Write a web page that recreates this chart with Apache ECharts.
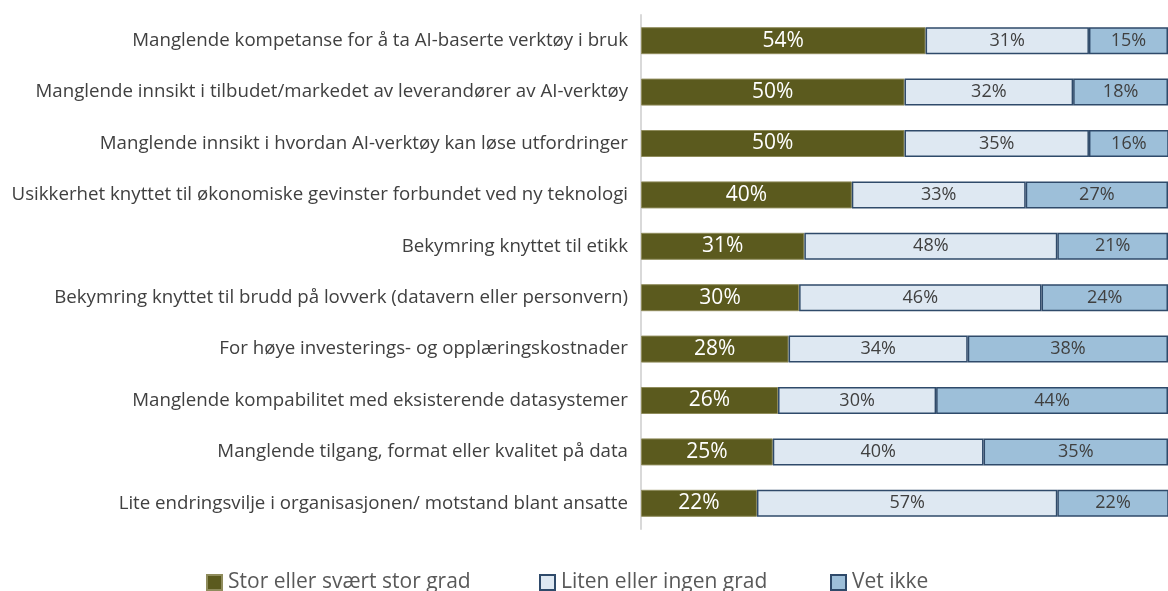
<!DOCTYPE html>
<html>
<head>
<meta charset="utf-8">
<script src="https://cdn.jsdelivr.net/npm/echarts@6/dist/echarts.min.js"></script>
<style>
  html, body { margin: 0; padding: 0; background: #fff; }
  #main { width: 1168px; height: 591px; }
</style>
</head>
<body>
<div id="main"></div>
<script>
const categories = [
  'Manglende kompetanse for å ta AI-baserte verktøy i bruk',
  'Manglende innsikt i tilbudet/markedet av leverandører av AI-verktøy',
  'Manglende innsikt i hvordan AI-verktøy kan løse utfordringer',
  'Usikkerhet knyttet til økonomiske gevinster forbundet ved ny teknologi',
  'Bekymring knyttet til etikk',
  'Bekymring knyttet til brudd på lovverk (datavern eller personvern)',
  'For høye investerings- og opplæringskostnader',
  'Manglende kompabilitet med eksisterende datasystemer',
  'Manglende tilgang, format eller kvalitet på data',
  'Lite endringsvilje i organisasjonen/ motstand blant ansatte'
]
const seriesNames = ['Stor eller svært stor grad', 'Liten eller ingen grad', 'Vet ikke']
const storGrad = [54, 50, 50, 40, 31, 30, 28, 26, 25, 22]
const litenGrad = [31, 32, 35, 33, 48, 46, 34, 30, 40, 57]
const vetIkke = [15, 18, 16, 27, 21, 24, 38, 44, 35, 22]

const font = '"Open Sans", sans-serif'
const chart = echarts.init(document.getElementById('main'))

// felles oppsett for stablede stolper
const makeSeries = (name, data, fill, border, borderW, textColor, textSize) => ({
  name,
  type: 'bar',
  stack: 'total',
  data,
  barWidth: 27,
  itemStyle: { color: fill, borderColor: border, borderWidth: borderW },
  label: {
    show: true,
    position: 'inside',
    formatter: '{c}%',
    color: textColor,
    fontSize: textSize,
    fontFamily: font
  },
  emphasis: { disabled: true }
})

// én legende per serie, slik at avstanden blir som i originalen
const legendAt = (name, left) => ({
  data: [name],
  left,
  top: 572,
  icon: 'rect',
  itemWidth: 15,
  itemHeight: 15,
  itemGap: 0,
  padding: 0,
  selectedMode: false,
  textStyle: { fontSize: 21, color: '#595959', fontFamily: font, padding: [0, 0, 0, 1] }
})

chart.setOption({
  animation: false,
  grid: { left: 641, right: 0, top: 15, bottom: 62 },
  legend: [
    legendAt(seriesNames[0], 206),
    legendAt(seriesNames[1], 539),
    legendAt(seriesNames[2], 830)
  ],
  xAxis: {
    type: 'value',
    min: 0,
    max: 100,
    show: false
  },
  yAxis: {
    type: 'category',
    inverse: true,
    data: categories,
    axisTick: { show: false },
    axisLine: { show: true, lineStyle: { color: '#d9d9d9', width: 2 } },
    axisLabel: { margin: 13, fontSize: 18.7, color: '#404040', fontFamily: font }
  },
  series: [
    makeSeries(seriesNames[0], storGrad, '#5b5a1e', '#8f8c5c', 1, '#ffffff', 21),
    makeSeries(seriesNames[1], litenGrad, '#dee8f2', '#2f4a6a', 1.5, '#404040', 18),
    makeSeries(seriesNames[2], vetIkke, '#9dbfd9', '#2f4a6a', 1.5, '#404040', 18)
  ]
})
</script>
</body>
</html>
